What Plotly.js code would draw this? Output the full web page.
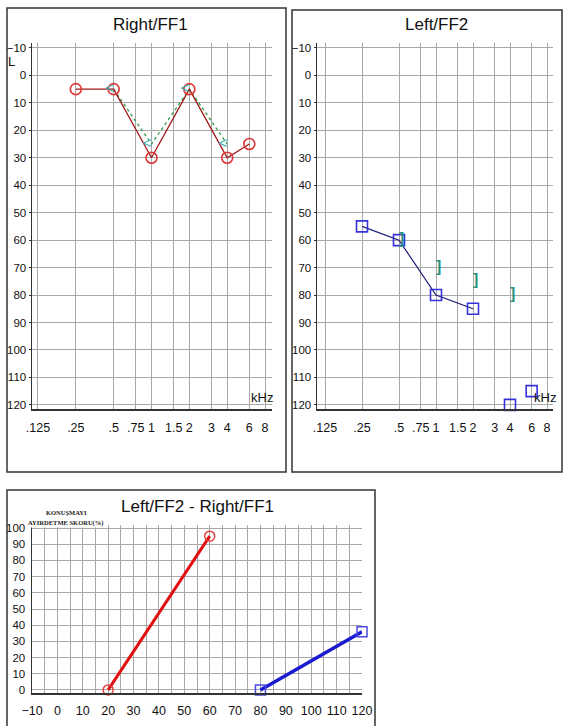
<!DOCTYPE html>
<html>
<head>
<meta charset="utf-8">
<script src="https://cdn.plot.ly/plotly-3.0.1.min.js"></script>
<style>html,body{margin:0;padding:0;background:#fff;}#chart{width:563px;height:726px;}</style>
</head>
<body>
<div id="chart"></div>
<script>
// ---------- data ----------
const freqTicks = [0.125, 0.25, 0.5, 0.75, 1, 1.5, 2, 3, 4, 6, 8];
const freqTickText = ['.125', '.25', '.5', '.75', '1', '1.5', '2', '3', '4', '6', '8'];
const dbTicks = [-10, 0, 10, 20, 30, 40, 50, 60, 70, 80, 90, 100, 110, 120];

const rightAirFreq = [0.25, 0.5, 1, 2, 4, 6];
const rightAirDb = [5, 5, 30, 5, 30, 25];
const rightBoneFreq = [0.5, 1, 2, 4];
const rightBoneDb = [5, 25, 5, 25];

const leftAirFreq = [0.25, 0.5, 1, 2];
const leftAirDb = [55, 60, 80, 85];
const leftAirNoRespFreq = [4, 6];
const leftAirNoRespDb = [120, 115];
const leftBoneFreq = [0.5, 1, 2, 4];
const leftBoneDb = [60, 70, 75, 80];

const speechTicksX = [-10, 0, 10, 20, 30, 40, 50, 60, 70, 80, 90, 100, 110, 120];
const speechTicksY = [0, 10, 20, 30, 40, 50, 60, 70, 80, 90, 100];
const rightSpeechDb = [20, 60];
const rightSpeechScore = [0, 95];
const leftSpeechDb = [80, 120];
const leftSpeechScore = [0, 36];

// ---------- helpers ----------
const W = 563, H = 726;
const px = v => v / W;
const py = v => 1 - v / H;
const FONT = "'Liberation Sans Narrow', 'Liberation Sans', Arial, sans-serif";
const oct = o => o * Math.log10(2);

const traces = [
  // Right panel
  {x: rightBoneFreq, y: rightBoneDb, xaxis: 'x', yaxis: 'y', mode: 'lines',
   line: {color: '#2e9a4a', width: 1.3, dash: 'dot'}, cliponaxis: false},
  {x: rightAirFreq, y: rightAirDb, xaxis: 'x', yaxis: 'y', mode: 'lines+markers',
   line: {color: '#a01818', width: 1.3},
   marker: {symbol: 'circle-open', size: 11, color: '#e03434', line: {width: 1.6, color: '#e03434'}}, cliponaxis: false},
  {x: rightBoneFreq, y: rightBoneDb, xaxis: 'x', yaxis: 'y', mode: 'text', text: rightBoneFreq.map(() => '<'),
   textposition: 'middle left', textfont: {family: FONT, size: 15, color: '#3aaeb0'}, cliponaxis: false},
  // Left panel
  {x: leftAirFreq, y: leftAirDb, xaxis: 'x2', yaxis: 'y2', mode: 'lines+markers',
   line: {color: '#1c1c78', width: 1.2},
   marker: {symbol: 'square-open', size: 11, color: '#3434d8', line: {width: 1.6, color: '#3434d8'}}, cliponaxis: false},
  {x: leftAirNoRespFreq, y: leftAirNoRespDb, xaxis: 'x2', yaxis: 'y2', mode: 'markers',
   marker: {symbol: 'square-open', size: 11, color: '#3434d8', line: {width: 1.6, color: '#3434d8'}}, cliponaxis: false},
  {x: leftBoneFreq, y: leftBoneDb, xaxis: 'x2', yaxis: 'y2', mode: 'text', text: leftBoneFreq.map(() => '<b>]</b>'),
   textposition: 'middle right', textfont: {family: FONT, size: 16, color: '#2a8f80'}, cliponaxis: false},
  // Speech panel
  {x: rightSpeechDb, y: rightSpeechScore, xaxis: 'x3', yaxis: 'y3', mode: 'lines+markers',
   line: {color: '#e01010', width: 3},
   marker: {symbol: 'circle-open', size: 10, color: '#e84040', line: {width: 1.5, color: '#e84040'}}, cliponaxis: false},
  {x: leftSpeechDb, y: leftSpeechScore, xaxis: 'x3', yaxis: 'y3', mode: 'lines+markers',
   line: {color: '#1a1ad0', width: 3.5},
   marker: {symbol: 'square-open', size: 10, color: '#4a4ae0', line: {width: 1.5, color: '#4a4ae0'}}, cliponaxis: false}
];

const tickFont = {family: FONT, size: 12.5, color: '#111'};
const yTickFont = {family: FONT, size: 11.5, color: '#111'};
const gridC = '#a8a8a8';

function freqAxis(domain, range) {
  return {domain: domain, type: 'log', range: range, tickvals: freqTicks, ticktext: freqTickText,
    showgrid: true, gridcolor: gridC, gridwidth: 1, showline: true, linecolor: '#333', linewidth: 1.5,
    ticks: '', tickfont: tickFont, zeroline: false, fixedrange: true, ticklabelstandoff: 6};
}
function dbAxis(domain, anchor) {
  return {domain: domain, anchor: anchor, range: [121.5, -11.8], tickvals: dbTicks,
    showgrid: true, gridcolor: gridC, gridwidth: 1, showline: true, linecolor: '#333', linewidth: 1.5,
    ticks: 'outside', ticklen: 2, tickcolor: '#333', tickfont: yTickFont, zeroline: false, fixedrange: true};
}

function ann(text, x, y, size, extra) {
  return Object.assign({text: text, xref: 'paper', yref: 'paper', x: px(x), y: py(y), showarrow: false,
    xanchor: 'center', yanchor: 'middle', font: {family: FONT, size: size, color: '#111'}}, extra || {});
}

const layout = {
  width: W, height: H, margin: {l: 0, r: 0, t: 0, b: 0},
  paper_bgcolor: '#fff', plot_bgcolor: '#fff', showlegend: false,
  font: {family: FONT},
  xaxis: Object.assign(freqAxis([px(32), px(272)], [Math.log10(0.125) - oct(6/38), Math.log10(8) + oct(7/38)]), {anchor: 'y'}),
  yaxis: dbAxis([py(409), py(43)], 'x'),
  xaxis2: Object.assign(freqAxis([px(317), px(553)], [Math.log10(0.125) - oct(8/37), Math.log10(8) + oct(6/37)]), {anchor: 'y2'}),
  yaxis2: dbAxis([py(409), py(43)], 'x2'),
  xaxis3: {domain: [px(32), px(362)], anchor: 'y3', range: [-10, 120], tickvals: speechTicksX,
    showgrid: true, gridcolor: gridC, gridwidth: 1,
    minor: {dtick: 5, tick0: 0, showgrid: true, gridcolor: gridC, gridwidth: 1},
    showline: true, linecolor: '#333', linewidth: 2, ticks: '', tickfont: tickFont, zeroline: false,
    fixedrange: true, ticklabelstandoff: 5},
  yaxis3: {domain: [py(693), py(525)], anchor: 'x3', range: [-1.9, 101.9], tickvals: speechTicksY,
    ticktext: speechTicksY.map(v => String(v)),
    showgrid: true, gridcolor: gridC, gridwidth: 1, showline: true, linecolor: '#333', linewidth: 1.5,
    ticks: '', tickfont: yTickFont, zeroline: false, fixedrange: true, ticklabelstandoff: 3},
  shapes: [
    {type: 'rect', xref: 'paper', yref: 'paper', x0: px(7), x1: px(286), y0: py(472), y1: py(8),
     line: {color: '#333', width: 1.5}},
    {type: 'rect', xref: 'paper', yref: 'paper', x0: px(292), x1: px(562), y0: py(472), y1: py(10),
     line: {color: '#333', width: 1.5}},
    {type: 'rect', xref: 'paper', yref: 'paper', x0: px(7), x1: px(375), y0: py(727), y1: py(490),
     line: {color: '#333', width: 1.5}}
  ],
  annotations: [
    ann('Right/FF1', 150, 25, 17),
    ann('Left/FF2', 436, 25, 17),
    ann('Left/FF2 - Right/FF1', 197, 506, 17),
    ann('L', 11, 61, 13),
    ann('kHz', 262, 397, 13),
    ann('kHz', 545, 397, 13),
    ann('<b>KONUŞMAYI</b>', 66, 512, 6.5, {font: {family: "'Liberation Serif', 'DejaVu Serif', serif", size: 6.5, color: '#222'}}),
    ann('<b>AYIRDETME SKORU(%)</b>', 65, 523, 6.5, {bgcolor: '#fff', borderpad: 0,
      font: {family: "'Liberation Serif', 'DejaVu Serif', serif", size: 6.5, color: '#222'}})
  ]
};

Plotly.newPlot('chart', traces, layout, {staticPlot: true, displayModeBar: false});
</script>
</body>
</html>
